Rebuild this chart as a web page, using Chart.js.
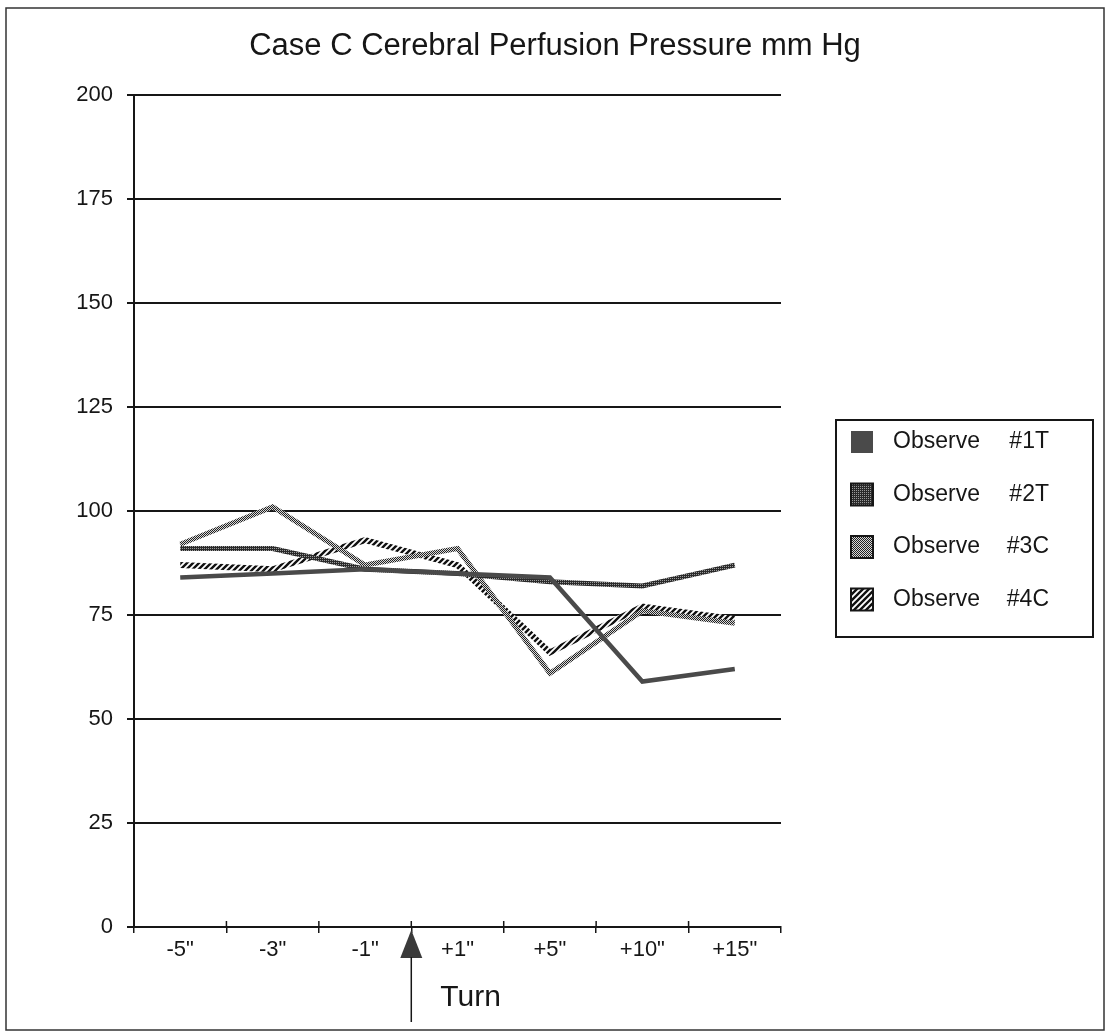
<!DOCTYPE html>
<html>
<head>
<meta charset="utf-8">
<title>Case C Cerebral Perfusion Pressure</title>
<script src="https://cdn.jsdelivr.net/npm/chart.js@4.4.0/dist/chart.umd.min.js"></script>
<style>
  body { margin: 0; background: #fff; }
  #wrap { width: 1110px; height: 1036px; }
</style>
</head>
<body>
<div id="wrap"><canvas id="cppChart" width="1110" height="1036"></canvas></div>
<script>
var chartTitle = 'Case C Cerebral Perfusion Pressure mm Hg';
var timeLabels = ['-5"', '-3"', '-1"', '+1"', '+5"', '+10"', '+15"'];
var seriesNames = ['Observe #1T', 'Observe #2T', 'Observe #3C', 'Observe #4C'];
var obs1T = [84, 85, 86, 85, 84, 59, 62];
var obs2T = [91, 91, 86, 85, 83, 82, 87];
var obs3C = [92, 101, 87, 91, 61, 76, 73];
var obs4C = [87, 86, 93, 87, 66, 77, 74];
var yMin = 0, yMax = 200, yStep = 25;
var turnLabel = 'Turn';
var turnAfterIndex = 2; // arrow sits between -1" and +1"

var FONT = '"Liberation Sans", Arial, Helvetica, sans-serif';
var INK = '#161616';

// little tiles used as stroke / fill patterns (scan-like textures)
function makePattern(kind) {
  var c = document.createElement('canvas');
  var g;
  if (kind === 'dense') {
    c.width = 2; c.height = 2;
    g = c.getContext('2d');
    g.fillStyle = '#2a2a2a'; g.fillRect(0, 0, 2, 2);
    g.fillStyle = '#9a9a9a'; g.fillRect(0, 0, 1, 1);
  } else if (kind === 'light') {
    c.width = 2; c.height = 2;
    g = c.getContext('2d');
    g.fillStyle = '#d8d8d8'; g.fillRect(0, 0, 2, 2);
    g.fillStyle = '#222'; g.fillRect(0, 0, 1, 1); g.fillRect(1, 1, 1, 1);
  } else {
    c.width = 6; c.height = 6;
    g = c.getContext('2d');
    g.fillStyle = '#fff'; g.fillRect(0, 0, 6, 6);
    g.strokeStyle = '#111'; g.lineWidth = 2.4;
    g.beginPath();
    g.moveTo(-1, 7); g.lineTo(7, -1);
    g.moveTo(-4, 4); g.lineTo(4, -4);
    g.moveTo(2, 10); g.lineTo(10, 2);
    g.stroke();
  }
  return g.createPattern(c, 'repeat');
}

var pat2 = makePattern('dense');
var pat3 = makePattern('light');
var pat4 = makePattern('hatch');
var lineFills = ['#4a4a4a', pat2, pat3, pat4];
var lineWidths = [4.5, 5, 5, 6];
var seriesValues = [obs1T, obs2T, obs3C, obs4C];

var datasets = [];
for (var i = 0; i < seriesNames.length; i++) {
  datasets.push({
    label: seriesNames[i],
    data: seriesValues[i],
    borderColor: lineFills[i],
    backgroundColor: lineFills[i],
    borderWidth: lineWidths[i],
    pointRadius: 0,
    tension: 0,
    fill: false
  });
}

// frame, title, legend box and the "Turn" arrow
var decorations = {
  id: 'decorations',
  beforeDraw: function(chart) {
    var ctx = chart.ctx;
    ctx.save();
    ctx.fillStyle = '#fff';
    ctx.fillRect(0, 0, chart.width, chart.height);
    ctx.restore();
  },
  afterDraw: function(chart) {
    var ctx = chart.ctx;
    var area = chart.chartArea;
    var xs = chart.scales.x;
    ctx.save();

    // outer frame
    ctx.strokeStyle = '#333';
    ctx.lineWidth = 1.5;
    ctx.strokeRect(6, 8, 1098, 1022);

    // short tick stubs poking above the x axis, like the original
    ctx.strokeStyle = INK;
    ctx.lineWidth = 1.5;
    for (var t = 1; t < timeLabels.length; t++) {
      var bx = (xs.getPixelForValue(t - 1) + xs.getPixelForValue(t)) / 2;
      ctx.beginPath();
      ctx.moveTo(bx, area.bottom - 6);
      ctx.lineTo(bx, area.bottom);
      ctx.stroke();
    }

    // title
    ctx.fillStyle = INK;
    ctx.font = '31px ' + FONT;
    ctx.textAlign = 'center';
    ctx.textBaseline = 'alphabetic';
    ctx.fillText(chartTitle, 555, 55);

    // legend
    var lx = 836, ly = 420, lw = 257, lh = 217;
    ctx.lineWidth = 2;
    ctx.strokeStyle = INK;
    ctx.strokeRect(lx, ly, lw, lh);
    ctx.font = '23px ' + FONT;
    ctx.textBaseline = 'middle';
    chart.data.datasets.forEach(function(ds, k) {
      var cy = ly + 22 + k * 52.5;
      ctx.fillStyle = ds.backgroundColor;
      ctx.fillRect(lx + 15, cy - 11, 22, 22);
      if (k > 0) {
        ctx.lineWidth = 2;
        ctx.strokeStyle = INK;
        ctx.strokeRect(lx + 15, cy - 11, 22, 22);
      }
      var cut = ds.label.lastIndexOf(' ');
      ctx.fillStyle = INK;
      ctx.textAlign = 'left';
      ctx.fillText(ds.label.slice(0, cut), lx + 57, cy);
      ctx.textAlign = 'right';
      ctx.fillText(ds.label.slice(cut + 1), lx + 213, cy);
    });

    // turn marker between two categories
    var tx = (xs.getPixelForValue(turnAfterIndex) + xs.getPixelForValue(turnAfterIndex + 1)) / 2;
    ctx.fillStyle = '#3a3a3a';
    ctx.beginPath();
    ctx.moveTo(tx, area.bottom + 3);
    ctx.lineTo(tx + 11, area.bottom + 31);
    ctx.lineTo(tx - 11, area.bottom + 31);
    ctx.closePath();
    ctx.fill();
    ctx.strokeStyle = INK;
    ctx.lineWidth = 1.5;
    ctx.beginPath();
    ctx.moveTo(tx, area.bottom + 30);
    ctx.lineTo(tx, 1022);
    ctx.stroke();
    ctx.fillStyle = INK;
    ctx.font = '30px ' + FONT;
    ctx.textAlign = 'left';
    ctx.textBaseline = 'alphabetic';
    ctx.fillText(turnLabel, tx + 29, 1006);

    ctx.restore();
  }
};

var chart = new Chart(document.getElementById('cppChart'), {
  type: 'line',
  data: { labels: timeLabels, datasets: datasets },
  options: {
    responsive: false,
    animation: false,
    devicePixelRatio: 1,
    layout: { padding: { top: 95, right: 329, bottom: 0, left: 0 } },
    plugins: {
      legend: { display: false },
      title: { display: false },
      tooltip: { enabled: false }
    },
    scales: {
      x: {
        offset: true,
        grid: { offset: true, drawOnChartArea: false, color: INK, lineWidth: 1.5, tickLength: 6 },
        border: { color: INK, width: 2 },
        ticks: { color: INK, font: { family: FONT, size: 22 }, padding: 4, maxRotation: 0 },
        afterFit: function(s) { s.height = 109; }
      },
      y: {
        min: yMin,
        max: yMax,
        grid: { color: INK, lineWidth: 2, tickLength: 7 },
        border: { color: INK, width: 2 },
        ticks: { stepSize: yStep, color: INK, font: { family: FONT, size: 22 }, padding: 14 },
        afterFit: function(s) { s.width = 134; }
      }
    }
  },
  plugins: [decorations]
});
</script>
</body>
</html>
